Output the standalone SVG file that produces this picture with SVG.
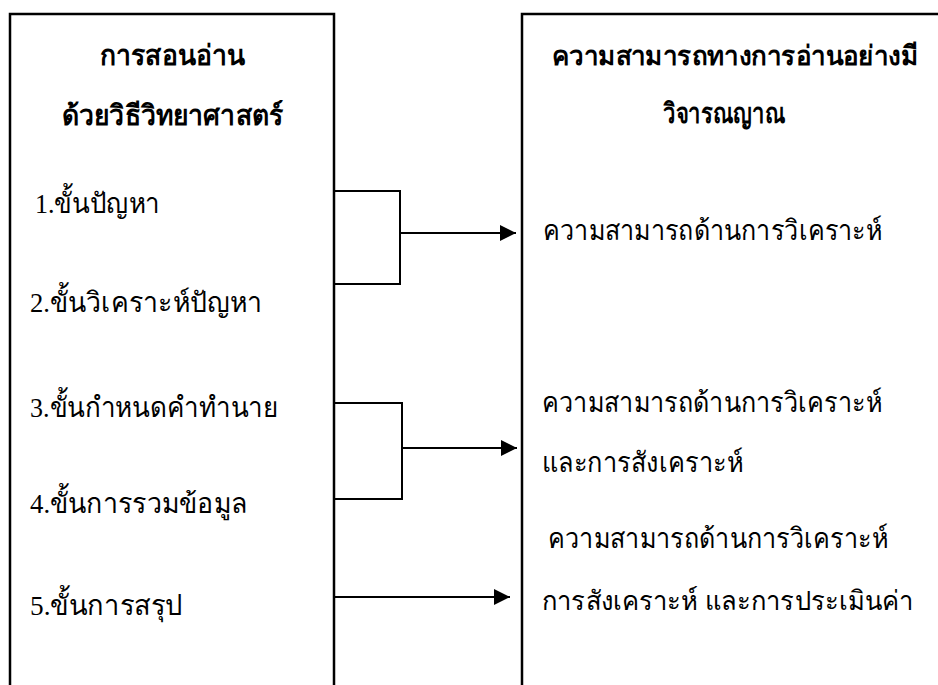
<svg xmlns="http://www.w3.org/2000/svg" width="938" height="685" viewBox="0 0 938 685">
<style>
.box{fill:none;stroke:#000;stroke-width:2.5}
.ln{fill:none;stroke:#000;stroke-width:2}
text{font-family:"Liberation Serif","DejaVu Serif",serif;font-size:28px;fill:#000}
.b{font-weight:bold}
.s{font-size:27px}
</style>
<defs>
<marker id="ah" viewBox="0 0 16 16" refX="16" refY="8" markerWidth="16" markerHeight="16" markerUnits="userSpaceOnUse" orient="auto">
<path d="M0,0 L16,8 L0,16 Z" fill="#000"/>
</marker>
</defs>
<rect width="938" height="685" fill="#fff"/>
<g id="left-box">
<path class="box" d="M10,700 V14 H334 V700"/>
<text class="b" x="100" y="65" textLength="145" lengthAdjust="spacingAndGlyphs">การสอนอ่าน</text>
<text class="b" x="62" y="125" textLength="221" lengthAdjust="spacingAndGlyphs">ด้วยวิธีวิทยาศาสตร์</text>
<text x="35" y="213" textLength="125" lengthAdjust="spacingAndGlyphs">1.ขั้นปัญหา</text>
<text x="30" y="312" textLength="232" lengthAdjust="spacingAndGlyphs">2.ขั้นวิเคราะห์ปัญหา</text>
<text x="30" y="417" textLength="248" lengthAdjust="spacingAndGlyphs">3.ขั้นกำหนดคำทำนาย</text>
<text x="30" y="513" textLength="217" lengthAdjust="spacingAndGlyphs">4.ขั้นการรวมข้อมูล</text>
<text x="30" y="615" textLength="153" lengthAdjust="spacingAndGlyphs">5.ขั้นการสรุป</text>
</g>
<g id="right-box">
<path class="box" d="M522,700 V14 H950"/>
<text class="b s" x="552" y="65" textLength="366" lengthAdjust="spacingAndGlyphs">ความสามารถทางการอ่านอย่างมี</text>
<text class="b" x="663" y="123" textLength="122" lengthAdjust="spacingAndGlyphs">วิจารณญาณ</text>
<text x="543" y="240" textLength="339" lengthAdjust="spacingAndGlyphs">ความสามารถด้านการวิเคราะห์</text>
<text x="542" y="412" textLength="340" lengthAdjust="spacingAndGlyphs">ความสามารถด้านการวิเคราะห์</text>
<text x="542" y="472" textLength="201" lengthAdjust="spacingAndGlyphs">และการสังเคราะห์</text>
<text x="548" y="548" textLength="340" lengthAdjust="spacingAndGlyphs">ความสามารถด้านการวิเคราะห์</text>
<text class="s" x="542" y="610" textLength="371" lengthAdjust="spacingAndGlyphs">การสังเคราะห์ และการประเมินค่า</text>
</g>
<g id="connectors">
<path class="ln" d="M334,191 H400 V284 H334"/>
<path class="ln" d="M400,233 H516" marker-end="url(#ah)"/>
<path class="ln" d="M334,403 H402 V499 H334"/>
<path class="ln" d="M402,448 H517" marker-end="url(#ah)"/>
<path class="ln" d="M334,597 H510" marker-end="url(#ah)"/>
</g>
</svg>
